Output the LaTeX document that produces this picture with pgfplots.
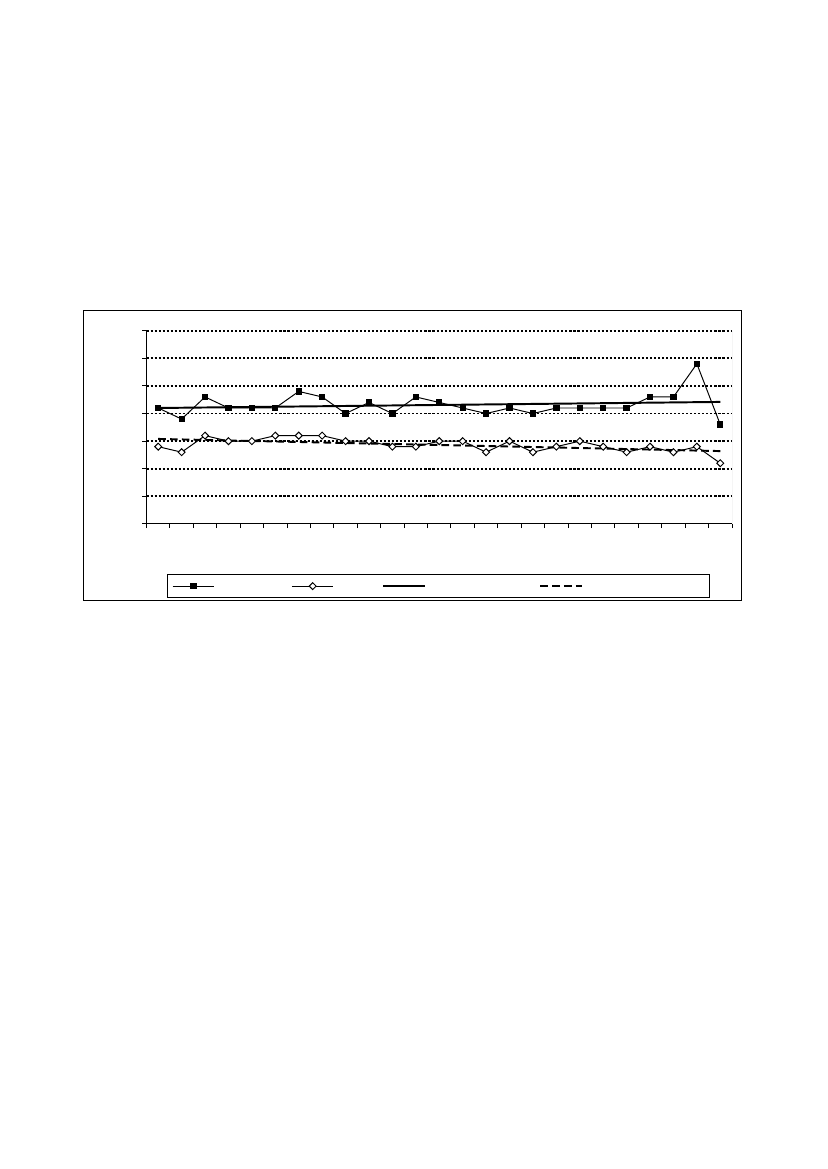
\documentclass[border=0pt]{standalone}
\usepackage{pgfplots}
\usepackage{pgfplotstable}
\pgfplotsset{compat=1.18}

% 1 px of the reference page = 0.72pt
\pgfplotstableread{
x  a    b
1  4.2  2.8
2  3.8  2.6
3  4.6  3.2
4  4.2  3.0
5  4.2  3.0
6  4.2  3.2
7  4.8  3.2
8  4.6  3.2
9  4.0  3.0
10 4.4  3.0
11 4.0  2.8
12 4.6  2.8
13 4.4  3.0
14 4.2  3.0
15 4.0  2.6
16 4.2  3.0
17 4.0  2.6
18 4.2  2.8
19 4.2  3.0
20 4.2  2.8
21 4.2  2.6
22 4.6  2.8
23 4.6  2.6
24 5.8  2.8
25 3.6  2.2
}\datatable

\pgfplotsset{
    markleg/.style={legend image code/.code={%
        \draw[mark repeat=2,mark phase=2,##1] plot coordinates {(0pt,0pt) (14.9pt,0pt) (29.8pt,0pt)};}},
    lineleg/.style={legend image code/.code={%
        \draw[##1] (0pt,0pt) -- (29.8pt,0pt);}},
}

\begin{document}
\begin{tikzpicture}
\path[use as bounding box] (0pt,0pt) rectangle (595.44pt,841.68pt);
\begin{axis}[
    scale only axis,
    width=421.56pt, height=139.2pt,
    at={(105.48pt,464.4pt)}, anchor=south west,
    xmin=0.5, xmax=25.5, ymin=0, ymax=7,
    xtick={0.5,1.5,...,25.5}, xticklabels={},
    ytick={1,...,7}, yticklabels={},
    extra y ticks={0}, extra y tick labels={},
    extra y tick style={grid=none},
    ymajorgrids,
    grid style={black, line width=1.35pt, dash pattern=on 1.5pt off 1.4pt},
    axis x line*=bottom, axis y line*=left,
    axis line style={black, line width=0.72pt, -},
    tick align=outside, major tick length=3pt,
    tick style={black, line width=0.72pt},
    legend columns=4,
    legend cell align=left,
    legend style={at={(0.0355,-0.2602)}, anchor=north west,
        draw=black, line width=0.72pt, fill=white,
        inner xsep=3.17pt, inner ysep=0pt, /tikz/column sep=0pt,
        nodes={inner sep=0pt, text height=8.15pt, text depth=8.15pt}},
]
\addplot[black, line width=0.7pt, mark=square*, mark size=1.9pt, markleg]
    table[x=x, y=a] {\datatable};
\addplot[black, line width=0.7pt, mark=square*, mark size=1.77pt,
    mark options={rotate=45, fill=white, line width=0.7pt}, markleg]
    table[x=x, y=b] {\datatable};
% linear trend lines
\addplot[black, line width=1.4pt, no marks, lineleg]
    coordinates {(1,4.20) (25,4.42)};
\addplot[black, line width=1.4pt, no marks, dash pattern=on 5.5pt off 3pt, lineleg]
    coordinates {(1,3.08) (25,2.64)};
\draw[gray!60, line width=0.72pt] (rel axis cs:1,0) -- (rel axis cs:1,1);
\legend{\hspace*{55.4pt}, \hspace*{35pt}, \hspace*{81.8pt}, \hspace*{88.2pt}}
\end{axis}
\draw[black, line width=0.72pt] (59.98pt,409.32pt) rectangle (533.52pt,618.26pt);
\end{tikzpicture}
\end{document}
